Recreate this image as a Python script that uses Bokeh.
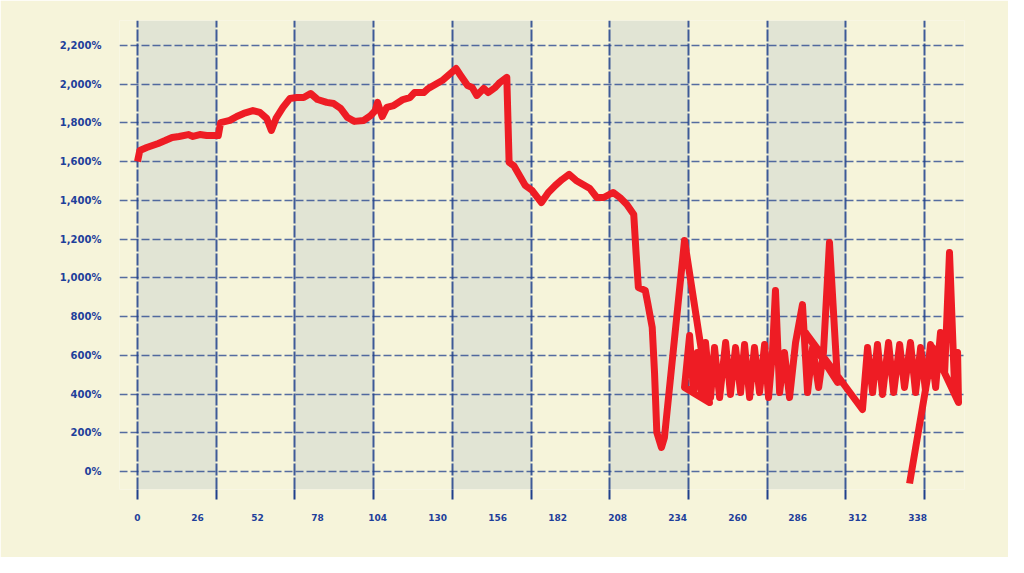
from bokeh.plotting import figure
from bokeh.models import FixedTicker, Grid, ColumnDataSource, Range1d
from bokeh.embed import file_html
from bokeh.resources import INLINE

# ---- data ----
day = [0, 1, 4, 9, 12, 15, 18, 22, 24, 27, 30, 35, 36, 40, 43, 46, 50, 53, 56, 58,
       60, 63, 66, 69, 72, 75, 78, 82, 85, 88, 91, 94, 98, 101, 103, 104, 106, 108, 111, 115,
       118, 120, 124, 126, 129, 132, 135, 138, 140, 143, 145, 147, 150, 152, 155, 157, 160, 161, 163, 166,
       168, 171, 175, 178, 181, 184, 187, 190, 193, 196, 199, 202, 206, 209, 212, 215, 216, 217, 220, 221,
       223, 224, 225, 227,
       228.3, 237.0, 247.8, 237.0, 239.2, 240.9, 242.6, 244.4, 246.1, 248.3, 250.0, 252.2, 254.8, 256.9,
       259.1, 261.3, 263.0, 265.2, 267.3, 269.5, 271.7, 273.4, 275.1, 276.4, 278.2, 280.3, 282.5, 285.1,
       288.1, 290.3, 292.5, 295.1, 297.2, 299.8, 303.3, 289.4, 314.1, 316.3, 318.5, 320.6, 322.8, 325.4,
       327.6, 330.2, 332.3, 334.9, 337.1, 339.3, 341.4, 343.6, 345.8, 347.9, 349.7, 351.8, 354.0, 355.3,
       355.7, 344.5, 334.5]

change_pct = [1601, 1658, 1673, 1694, 1709, 1725, 1730, 1740, 1730, 1740, 1735, 1735, 1802, 1813, 1833, 1849,
              1864, 1854, 1823, 1761, 1823, 1880, 1926, 1931, 1931, 1952, 1921, 1906, 1900, 1875, 1828, 1808,
              1813, 1838, 1864, 1906, 1833, 1880, 1890, 1921, 1931, 1957, 1957, 1978, 1999, 2019, 2050, 2081,
              2045, 1993, 1983, 1942, 1978, 1957, 1983, 2009, 2035, 1596, 1580, 1518, 1477, 1451, 1389, 1441,
              1477, 1508, 1534, 1503, 1482, 1461, 1415, 1415, 1441, 1415, 1379, 1327, 1131, 950, 935, 873,
              744, 511, 201, 124,
              176, 1193, 356, 434, 702, 408, 615, 382, 666, 382, 640, 382, 666, 398, 640, 408, 656, 382,
              640, 408, 656, 382, 615, 935, 408, 615, 382, 666, 862, 408, 640, 434, 615, 1183, 460, 718,
              320, 640, 408, 656, 398, 666, 408, 656, 434, 666, 408, 640, 418, 656, 434, 718, 511, 1131,
              434, 615, 356, 640, -62]

x_tick_values = [0, 26, 52, 78, 104, 130, 156, 182, 208, 234, 260, 286, 312, 338]
x_tick_labels = ["0", "26", "52", "78", "104", "130", "156", "182", "208", "234", "260", "286", "312", "338"]
x_grid_values = [0, 34.1, 68.2, 102.3, 136.4, 170.5, 204.6, 238.7, 272.8, 306.9, 341]
y_tick_values = [0, 200, 400, 600, 800, 1000, 1200, 1400, 1600, 1800, 2000, 2200]
y_tick_labels = ["0%", "200%", "400%", "600%", "800%", "1,000%", "1,200%", "1,400%",
                 "1,600%", "1,800%", "2,000%", "2,200%"]

# ---- styling ----
BG = "#f6f4da"
GRID = "#1f3f8c"
LABEL = "#1e3f9a"
RED = "#ee1c24"

x_start, x_end = -7.8, 358.3
y_start, y_end = -93, 2329

p = figure(width=1008, height=557, output_backend="svg", toolbar_location=None,
           x_range=Range1d(x_start, x_end), y_range=Range1d(y_start, y_end),
           min_border_left=119, min_border_right=44, min_border_top=20, min_border_bottom=68)
p.background_fill_color = BG
p.border_fill_color = BG
p.outline_line_color = None

# alternating vertical bands (first grid carries bands only; last open interval left unshaded)
p.xgrid.ticker = FixedTicker(ticks=x_grid_values[:-1])
p.xgrid.grid_line_color = None
p.xgrid.band_fill_color = "#8fa4c0"
p.xgrid.band_fill_alpha = 0.2

vgrid = Grid(dimension=0, ticker=FixedTicker(ticks=x_grid_values),
             grid_line_color=GRID, grid_line_width=2, grid_line_alpha=0.85,
             grid_line_dash="12 2")
p.add_layout(vgrid)

p.ygrid.ticker = FixedTicker(ticks=y_tick_values)
p.ygrid.grid_line_color = GRID
p.ygrid.grid_line_width = 1.3
p.ygrid.grid_line_alpha = 0.75
p.ygrid.grid_line_dash = "8 3"

# x axis: labels at x_tick_values, tick marks at grid positions
p.xaxis.ticker = FixedTicker(ticks=x_tick_values, minor_ticks=x_grid_values)
p.xaxis.major_label_overrides = {v: l for v, l in zip(x_tick_values, x_tick_labels)}
p.xaxis.axis_line_color = None
p.xaxis.major_tick_line_color = None
p.xaxis.major_tick_in = 0
p.xaxis.major_tick_out = 10
p.xaxis.minor_tick_in = 0
p.xaxis.minor_tick_out = 10
p.xaxis.minor_tick_line_color = GRID
p.xaxis.minor_tick_line_width = 2
p.xaxis.major_label_standoff = 14
p.xaxis.major_label_text_font = "DejaVu Sans"
p.xaxis.major_label_text_font_style = "bold"
p.xaxis.major_label_text_font_size = "9px"
p.xaxis.major_label_text_color = LABEL

p.yaxis.ticker = FixedTicker(ticks=y_tick_values)
p.yaxis.major_label_overrides = {v: l for v, l in zip(y_tick_values, y_tick_labels)}
p.yaxis.axis_line_color = None
p.yaxis.major_tick_line_color = None
p.yaxis.minor_tick_line_color = None
p.yaxis.major_tick_in = 0
p.yaxis.major_tick_out = 0
p.yaxis.major_label_standoff = 18
p.yaxis.major_label_text_font = "DejaVu Sans"
p.yaxis.major_label_text_font_style = "bold"
p.yaxis.major_label_text_font_size = "10px"
p.yaxis.major_label_text_color = LABEL

src = ColumnDataSource(data=dict(x=day, y=change_pct))
p.line(x="x", y="y", source=src, line_color=RED, line_width=7, line_join="round")

open("out.html", "w").write(file_html(p, INLINE))
